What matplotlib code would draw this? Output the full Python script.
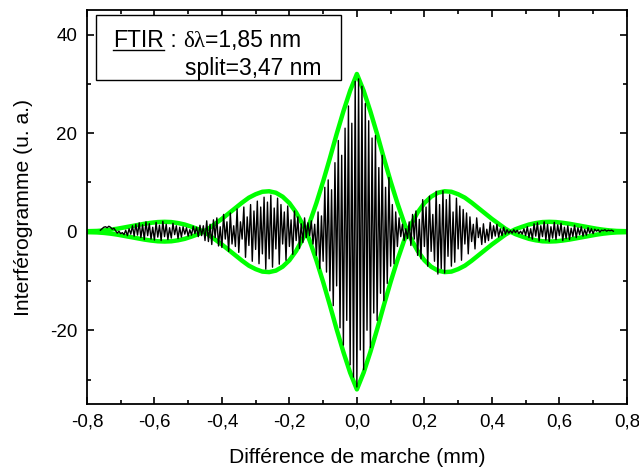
import numpy as np
import matplotlib
matplotlib.use('Agg')
import matplotlib.pyplot as plt
from matplotlib.patches import Rectangle
from matplotlib.lines import Line2D
from matplotlib.ticker import MultipleLocator, FuncFormatter

plt.rcParams['font.family'] = ['Liberation Sans', 'DejaVu Sans']
plt.rcParams['axes.unicode_minus'] = False

step = 0.005

# interferogram (black trace)
tail_left_x0 = -0.76
tail_left = [0.3, 0.6, 0.9, 1.0, 0.8, 1.1, 0.9, 0.5, 0.7, 0.2,
             -0.3, 0.1, -0.4, -0.2, -0.6, 0.3, -0.8, 0.6, -0.5, 1.2,
             -0.9, 1.5, -0.7, 1.8, -1.2, 1.4, -1.6, 2.0, -0.8, 1.6,
             -1.5, 0.9, -1.7, 1.9, -1.1, 1.3, -1.8, 2.1, -1.0, 1.5,
             -1.6, 0.8, -1.3, 1.7, -0.6, 1.2, -1.4, 0.9, -1.1, 1.0,
             -0.5, 0.8, -0.9, 0.4, -0.7, 1.1, -0.4, 0.9, -1.0, 1.3,
             -0.8, 1.2]

lobe_left_x0 = -0.45
lobe_left = [-1.8, 2.2, -2.0, 1.5, -2.6, 2.4, -1.2, 2.8, -2.9, 1.0,
             -3.2, 3.5, -1.5, 2.0, -4.0, 3.8, -2.5, 1.2, -3.0, 4.6,
             -4.2, 2.0, -1.5, 5.0, -5.2, 3.0, -2.8, 5.5, -6.0, 4.2,
             -3.6, 6.2, -6.5, 5.0, -4.5, 7.0, -7.6, 6.0, -5.5, 7.4,
             -7.2, 4.8, -3.5, 6.8, -6.6, 5.5, -2.5, 4.0, -5.8, 5.2,
             -3.0, 2.4, -4.6, 4.2, -1.8, 3.0, -3.4, 1.6, -2.2, 2.8]

main_x0 = -0.15
main_lobe = [-1.2, 1.8, -0.8, 2.2, -2.5, 1.5, -4.8, 4.0, -7.5, 3.2,
             -6.0, 9.0, -8.2, 10.5, -12.0, 8.5, -15.0, 14.0, -11.0, 18.5,
             -19.5, 15.5, -23.0, 21.0, -18.0, 25.5, -27.0, 22.0, -29.5, 30.5,
             -31.5, 31.0, -24.0, 29.5, -28.0, 26.0, -20.0, 22.5, -23.5, 19.0,
             -16.5, 19.5, -18.0, 13.0, -12.5, 15.5, -14.0, 9.0, -10.5, 11.0,
             -7.0, 5.5, -6.5, 4.0, -3.0, 2.8, -1.0, 1.5, -1.8, 0.6,
             -1.4]

lobe_right_x0 = 0.155
lobe_right = [2.0, -2.8, 3.5, -1.5, 4.2, -4.8, 2.5, -5.5, 6.5, -3.0,
              5.0, -7.0, 7.2, -4.0, 3.5, -6.0, 8.2, -8.6, 5.5, -7.5,
              8.3, -8.4, 6.5, -5.0, 7.5, -7.0, 4.0, -6.2, 6.8, -3.5,
              5.2, -5.8, 4.5, -2.5, 3.8, -4.5, 3.0, -2.0, 1.5, -3.5,
              2.8, -1.2, 0.8, -2.6, 1.6, -2.2, 0.5, -1.8, 1.9, -1.4,
              1.2, -0.9, 1.5, -1.1, 0.6, -0.8, 0.9, -0.5, 0.4, -0.3]

tail_right_x0 = 0.455
tail_right = [0.2, -0.3, 0.4, -0.2, 0.3, -0.4, 0.1, -0.5, 0.6, -0.8,
              1.0, -1.2, 0.6, -1.5, 1.6, -0.9, 1.8, -1.9, 1.2, -1.0,
              2.0, -1.7, 1.5, -2.0, 1.0, -1.3, 1.9, -1.6, 1.4, -0.8,
              1.7, -1.8, 0.9, -1.4, 1.2, -1.6, 0.7, -1.0, 1.3, -1.2,
              0.8, -0.6, 1.0, -0.9, 0.5, -0.7, 0.8, -0.3, 0.6, -0.4,
              0.5, 0.1, 0.4, -0.1, 0.3, 0.2, 0.4, 0.1, 0.3, 0.2,
              0.3, 0.1]

segments = [(tail_left_x0, tail_left), (lobe_left_x0, lobe_left),
            (main_x0, main_lobe), (lobe_right_x0, lobe_right),
            (tail_right_x0, tail_right)]

# envelope (green), positive side, symmetric about 0
env_x = [0.0, 0.02, 0.04, 0.06, 0.08, 0.10, 0.12, 0.14, 0.15, 0.16,
         0.18, 0.20, 0.22, 0.24, 0.26, 0.28, 0.30, 0.32, 0.34, 0.36,
         0.38, 0.40, 0.42, 0.44, 0.455, 0.47, 0.49, 0.51, 0.53, 0.55,
         0.57, 0.59, 0.61, 0.63, 0.65, 0.67, 0.69, 0.71, 0.73, 0.75,
         0.77, 0.80]
env_y = [32.0, 28.6, 24.4, 19.8, 14.9, 10.2, 5.8, 1.8, 0.0, 1.4,
         3.9, 5.8, 7.1, 7.9, 8.2, 8.1, 7.6, 6.9, 5.9, 4.8,
         3.7, 2.6, 1.6, 0.6, 0.0, 0.5, 1.0, 1.45, 1.75, 1.95,
         2.0, 1.95, 1.8, 1.6, 1.35, 1.1, 0.85, 0.6, 0.4, 0.25,
         0.15, 0.1]

xticks = [-0.8, -0.6, -0.4, -0.2, 0.0, 0.2, 0.4, 0.6, 0.8]
yticks = [-20, 0, 20, 40]

sig_x = np.concatenate([x0 + step * np.arange(len(v)) for x0, v in segments])
sig_y = np.concatenate([np.array(v) for _, v in segments])

ex = np.array(env_x)
ey = np.array(env_y)
full_ex = np.concatenate([-ex[::-1], ex[1:]])
full_ey = np.concatenate([ey[::-1], ey[1:]])

fig = plt.figure(figsize=(6.39, 4.70), dpi=100)
ax = fig.add_axes([0.136, 0.140, 0.845, 0.839])

ax.plot(full_ex, full_ey, color='#00ff00', lw=3.2, zorder=2)
ax.plot(full_ex, -full_ey, color='#00ff00', lw=3.2, zorder=2)
ax.plot(sig_x, sig_y, color='black', lw=1.0, zorder=3)

ax.set_xlim(-0.8, 0.8)
ax.set_ylim(-35, 45)
ax.set_xticks(xticks)
ax.set_yticks(yticks)
ax.xaxis.set_minor_locator(MultipleLocator(0.1))
ax.yaxis.set_minor_locator(MultipleLocator(10))
ax.xaxis.set_major_formatter(FuncFormatter(lambda v, p: ('%.1f' % v).replace('.', ',')))
ax.yaxis.set_major_formatter(FuncFormatter(lambda v, p: '%d' % v))
ax.tick_params(which='both', direction='in', top=True, right=True, width=1.2, labelsize=13.5)
ax.tick_params(which='major', length=5, pad=7)
ax.tick_params(which='minor', length=3)
for s in ax.spines.values():
    s.set_linewidth(1.3)

ax.set_xlabel('Différence de marche (mm)', fontsize=15.2, labelpad=12)
ax.set_ylabel('Interférogramme (u. a.)', fontsize=15.2, labelpad=12)

# annotation box
ax.add_patch(Rectangle((0.017, 0.822), 0.453, 0.165, transform=ax.transAxes,
                       facecolor='white', edgecolor='black', lw=1.0, zorder=4))

fs = 16.5
fig.canvas.draw()
r = fig.canvas.get_renderer()
inv = ax.transAxes.inverted()


def chain(x, y, parts):
    out = []
    for txt, fam in parts:
        t = ax.text(x, y, txt, transform=ax.transAxes, fontsize=fs, va='baseline',
                    family=fam, zorder=5)
        bb = t.get_window_extent(renderer=r)
        x = inv.transform((bb.x1, bb.y0))[0]
        out.append(t)
    return out


line1 = chain(0.048, 0.905, [('FTIR', 'Liberation Sans'), (' : ', 'Liberation Sans'),
                              ('δλ', 'Liberation Serif'), ('=1,85 nm', 'Liberation Sans')])
chain(0.182, 0.835, [('split=3,47 nm', 'Liberation Sans')])

# underline of FTIR, just under the baseline
bb = line1[0].get_window_extent(renderer=r)
(ux0, _), (ux1, _) = inv.transform([(bb.x0, bb.y0), (bb.x1, bb.y0)])
ax.add_line(Line2D([ux0, ux1], [0.905 - 0.008, 0.905 - 0.008], transform=ax.transAxes,
                   color='black', lw=1.0, zorder=5))

fig.savefig('out.png', dpi=100)
